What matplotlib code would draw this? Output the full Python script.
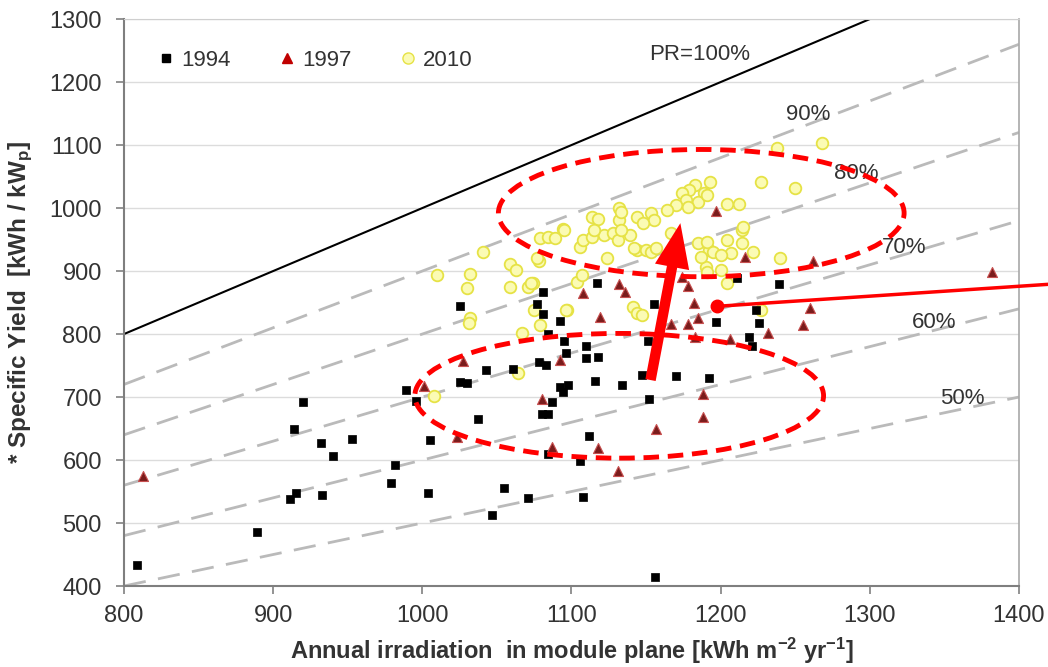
import numpy as np
import matplotlib
matplotlib.use("Agg")
import matplotlib.pyplot as plt
from matplotlib.patches import Ellipse
from matplotlib.lines import Line2D

plt.rcParams["font.family"] = ["Liberation Sans", "DejaVu Sans"]
plt.rcParams["mathtext.fontset"] = "custom"
plt.rcParams["mathtext.bf"] = "Liberation Sans:bold"
plt.rcParams["mathtext.rm"] = "Liberation Sans:bold"
plt.rcParams["mathtext.default"] = "bf"

# ---------------------------------------------------------------------------
# data: annual irradiation [kWh/m2/yr] vs specific yield [kWh/kWp]
# ---------------------------------------------------------------------------
x_1994 = [809, 889, 920, 914, 932, 940, 953, 911, 915, 933,
          979, 982, 989, 996, 1005, 1004, 1025, 1030, 1037, 1043,
          1047, 1055, 1061, 1025, 1077, 1081, 1092, 1084, 1095, 1096,
          1110, 1110, 1118, 1151, 1078, 1083, 1092, 1098, 1094, 1116,
          1134, 1147, 1152, 1087, 1080, 1084, 1112, 1084, 1106, 1071,
          1108, 1170, 1192, 1156, 1219, 1221, 1155, 1197, 1226, 1211,
          1239, 1224, 1081, 1117]
y_1994 = [433, 486, 692, 649, 627, 606, 633, 538, 548, 545,
          563, 592, 711, 694, 632, 547, 724, 722, 665, 743,
          513, 555, 744, 844, 848, 832, 821, 800, 789, 770,
          781, 762, 764, 789, 755, 751, 716, 719, 708, 725,
          719, 735, 697, 692, 673, 673, 638, 610, 599, 540,
          541, 733, 730, 414, 795, 781, 848, 819, 818, 889,
          879, 838, 867, 881]

x_1997 = [813, 1001, 1027, 1023, 1092, 1119, 1080, 1087, 1118, 1131,
          1157, 1188, 1188, 1206, 1232, 1260, 1255, 1182, 1178, 1185,
          1167, 1183, 1197, 1216, 1262, 1174, 1178, 1382, 1108, 1132, 1136]
y_1997 = [575, 717, 757, 637, 759, 827, 697, 621, 619, 583,
          649, 705, 668, 792, 801, 841, 814, 850, 816, 825,
          816, 795, 995, 922, 916, 890, 876, 899, 865, 880, 866]

x_2010 = [1010, 1032, 1030, 1041, 1059, 1063, 1059, 1071, 1074, 1078,
          1079, 1084, 1089, 1094, 1106, 1108, 1114, 1114, 1118, 1124,
          1104, 1107, 1122, 1128, 1131, 1132, 1132, 1139, 1144, 1144,
          1150, 1141, 1144, 1097, 1032, 1031, 1008, 1064, 1067, 1079,
          1147, 1238, 1268, 1227, 1250, 1193, 1183, 1179, 1174, 1189,
          1177, 1204, 1212, 1185, 1170, 1164, 1153, 1133, 1133, 1115,
          1095, 1077, 1142, 1153, 1167, 1185, 1192, 1204, 1214, 1207,
          1222, 1240, 1190, 1200, 1204, 1227, 1073, 1096, 1075, 1191,
          1178, 1155, 1148, 1215, 1214, 1191, 1195, 1200, 1187, 1157, 1191]
y_2010 = [894, 895, 873, 930, 911, 902, 875, 875, 881, 916,
          952, 954, 952, 967, 938, 949, 954, 986, 983, 921,
          883, 894, 957, 960, 949, 981, 1000, 957, 986, 933,
          933, 843, 833, 838, 825, 817, 702, 738, 801, 814,
          830, 1095, 1103, 1041, 1032, 1041, 1036, 1029, 1024, 1024,
          1013, 1006, 1006, 1010, 1005, 997, 992, 994, 965, 965,
          965, 921, 936, 930, 960, 944, 933, 949, 965, 929,
          930, 921, 906, 902, 881, 838, 881, 838, 838, 1021,
          1002, 981, 976, 970, 944, 946, 930, 925, 922, 936, 898]

# performance-ratio reference lines
pr_levels = [1.0, 0.9, 0.8, 0.7, 0.6, 0.5]
pr_labels = ["PR=100%", "90%", "80%", "70%", "60%", "50%"]
pr_label_pos = [(1186, 1243), (1259, 1148), (1291, 1055),
                (1323, 938), (1343, 819), (1362, 698)]

# highlighted clusters and shift annotation
ellipse_old = dict(center=(1132, 702), width=274, height=198)
ellipse_new = dict(center=(1187, 992), width=272, height=202)
shift_tail = (1153, 727)
shift_tip = (1173, 976)
pointer_start = (1197.5, 844)
pointer_end = (1420, 879)

TXT = "#333333"

fig = plt.figure(figsize=(10.48, 6.67), dpi=100)
ax = fig.add_axes([0.1183, 0.1214, 0.854, 0.850])

x_ref = np.array([800, 1400])
for pr in pr_levels:
    if pr == 1.0:
        ax.plot(x_ref, pr * x_ref, color="black", lw=1.5, zorder=2)
    else:
        ax.plot(x_ref, pr * x_ref, color="#bababa", lw=2.0,
                dashes=(8, 4.5), zorder=2)
for lab, (lx, ly) in zip(pr_labels, pr_label_pos):
    ax.text(lx, ly, lab, fontsize=16, color=TXT, ha="center",
            va="center", zorder=3)

ax.scatter(x_2010, y_2010, s=70, marker="o", facecolor="#fbfbb4",
           edgecolor="#e6e245", linewidths=1.3, zorder=4)
ax.scatter(x_1994, y_1994, s=38, marker="s", facecolor="black",
           edgecolor="black", linewidths=0.5, zorder=5)
ax.scatter(x_1997, y_1997, s=52, marker="^", facecolor="#7a1c1c",
           edgecolor="#c85050", linewidths=0.8, zorder=5)

for e in (ellipse_old, ellipse_new):
    ax.add_patch(Ellipse(e["center"], e["width"], e["height"], fill=False,
                         edgecolor="red", lw=3.5, linestyle=(0, (3.2, 1.8)),
                         zorder=6))

ax.annotate("", xy=shift_tip, xytext=shift_tail,
            arrowprops=dict(width=7.5, headwidth=25, headlength=32,
                            color="red", lw=0), zorder=7)

ax.plot([pointer_start[0], pointer_end[0]], [pointer_start[1], pointer_end[1]],
        color="red", lw=2.5, clip_on=False, zorder=7)
ax.plot([pointer_start[0]], [pointer_start[1]], "o", color="red", ms=9,
        zorder=7)

ax.set_xlim(800, 1400)
ax.set_ylim(400, 1300)
ax.set_xticks(np.arange(800, 1401, 100))
ax.set_yticks(np.arange(400, 1301, 100))
ax.yaxis.grid(True, color="#dcdcdc", lw=1.0)
ax.set_axisbelow(True)
ax.tick_params(axis="both", direction="out", length=6, width=1.2,
               color="#808080", labelsize=17, labelcolor=TXT, pad=10)
ax.tick_params(axis="x", pad=8)
for side in ("left", "bottom"):
    ax.spines[side].set_color("#7f7f7f")
    ax.spines[side].set_linewidth(1.5)
ax.spines["top"].set_color("#cfcfcf")
ax.spines["right"].set_color("#a8a8a8")
ax.spines["right"].set_linewidth(1.2)

ax.set_xlabel("Annual irradiation  in module plane [kWh m$^{-2}$ yr$^{-1}$]",
              fontsize=17, fontweight="bold", color=TXT, labelpad=6)
ax.set_ylabel("* Specific Yield  [kWh / kW$_p$]", fontsize=17.5,
              fontweight="bold", color=TXT, labelpad=10)

handles = [
    Line2D([], [], ls="none", marker="s", ms=6, mfc="black", mec="black"),
    Line2D([], [], ls="none", marker="^", ms=7, mfc="#c00000", mec="#c00000"),
    Line2D([], [], ls="none", marker="o", ms=8, mfc="#fbfbb4", mec="#e6e245"),
]
ax.legend(handles, ["1994", "1997", "2010"], loc="upper left",
          bbox_to_anchor=(0.027, 0.962), borderaxespad=0, ncol=3,
          frameon=False, fontsize=16, handlelength=0.8, handletextpad=0.28,
          columnspacing=2.15, labelcolor=TXT)

fig.savefig("out.png", dpi=100, facecolor="white")
